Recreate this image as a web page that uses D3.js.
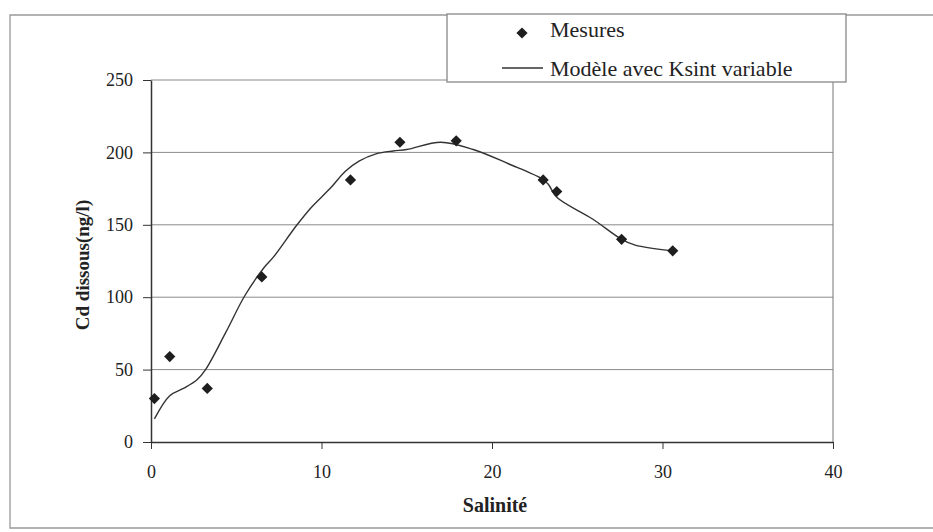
<!DOCTYPE html>
<html>
<head>
<meta charset="utf-8">
<script src="https://cdn.jsdelivr.net/npm/d3@7"></script>
<style>
  body { margin: 0; background: #fff; }
  svg text { font-family: "Liberation Serif", "DejaVu Serif", "Times New Roman", Times, serif !important; fill: #222; }
</style>
</head>
<body>
<script>
// measured points (salinity, dissolved Cd)
const mesSal = [0.2, 1.1, 3.3, 6.5, 11.7, 14.6, 17.9, 23.0, 23.8, 27.6, 30.6];
const mesCd  = [30, 59, 37, 114, 181, 207, 208, 181, 173, 140, 132];

// model curve "Ksint variable"
const modSal = [0.2, 1.1, 1.9, 2.7, 3.2, 4.4, 5.5, 6.6, 7.2, 8.5, 9.4, 10.5, 11.4, 12.2, 13.2, 14.2, 15.0, 17.0, 18.9, 21.0, 22.9, 23.3, 23.8, 25.9, 27.6, 28.4, 30.6];
const modCd  = [16, 32, 37, 43, 50, 76, 101, 120, 128, 149, 162, 175, 187, 194, 199, 201, 202, 207, 202, 192, 182, 178, 169, 154, 140, 136, 132];

const xTicks = [0, 10, 20, 30, 40];
const yTicks = [0, 50, 100, 150, 200, 250];

const W = 933, H = 532;
const margin = { top: 80, right: 100, bottom: 90, left: 151 },
    width = W - margin.left - margin.right,
    height = H - margin.top - margin.bottom;

const svg = d3.select("body").append("svg")
    .attr("width", W)
    .attr("height", H);

// outer chart frame
svg.append("path")
    .attr("d", "M940,15 H10 V528 H940")
    .attr("fill", "none")
    .attr("stroke", "#999")
    .attr("stroke-width", 1.3);

const g = svg.append("g")
    .attr("transform", "translate(" + margin.left + "," + margin.top + ")");

const x = d3.scaleLinear().domain([0, 40]).range([0, width]);
const y = d3.scaleLinear().domain([0, 250]).range([height, 0]);

// gridlines
g.selectAll(".grid")
    .data(yTicks.filter(d => d > 0))
    .enter().append("line")
    .attr("class", "grid")
    .attr("x1", 0).attr("x2", width)
    .attr("y1", d => y(d)).attr("y2", d => y(d))
    .attr("stroke", "#8a8a8a")
    .attr("stroke-width", 1);

// right border of the plot
g.append("line")
    .attr("x1", width).attr("x2", width)
    .attr("y1", 0).attr("y2", height)
    .attr("stroke", "#777");

// axes
const xAxis = g.append("g")
    .attr("transform", "translate(0," + height + ")")
    .call(d3.axisBottom(x).tickValues(xTicks).tickSize(7).tickPadding(16).tickSizeOuter(0));

const yAxis = g.append("g")
    .call(d3.axisLeft(y).tickValues(yTicks).tickSize(8).tickPadding(10).tickSizeOuter(0));

[xAxis, yAxis].forEach(a => {
    a.attr("font-family", null).attr("font-size", null);
    a.select(".domain").attr("stroke", "#333").attr("stroke-width", 1.5);
    a.selectAll(".tick line").attr("stroke", "#333");
    a.selectAll("text")
        .style("font-size", "18px")
        .attr("fill", "#222");
});

// model line
const line = d3.line()
    .x(d => x(d[0]))
    .y(d => y(d[1]))
    .curve(d3.curveCatmullRom.alpha(0.5));

g.append("path")
    .datum(modSal.map((s, i) => [s, modCd[i]]))
    .attr("d", line)
    .attr("fill", "none")
    .attr("stroke", "#333")
    .attr("stroke-width", 1.4);

// measured points as diamonds
const diamond = d3.symbol().type(d3.symbolDiamond2).size(80);
g.selectAll(".pt")
    .data(mesSal.map((s, i) => [s, mesCd[i]]))
    .enter().append("path")
    .attr("class", "pt")
    .attr("transform", d => "translate(" + x(d[0]) + "," + y(d[1]) + ")")
    .attr("d", diamond)
    .attr("fill", "#1e1e1e");

// axis titles
svg.append("text")
    .attr("x", margin.left + width / 2 + 3)
    .attr("y", 512)
    .attr("text-anchor", "middle")
    .attr("font-weight", "bold")
    .style("font-size", "20px")
    .text("Salinité");

svg.append("text")
    .attr("transform", "translate(89," + 265 + ") rotate(-90)")
    .attr("text-anchor", "middle")
    .attr("font-weight", "bold")
    .style("font-size", "19px")
    .text("Cd dissous(ng/l)");

// legend
const lg = svg.append("g");
lg.append("rect")
    .attr("x", 447).attr("y", 14)
    .attr("width", 399).attr("height", 68)
    .attr("fill", "#fff")
    .attr("stroke", "#888")
    .attr("stroke-width", 1.3);

lg.append("path")
    .attr("transform", "translate(522,33)")
    .attr("d", diamond)
    .attr("fill", "#1e1e1e");

lg.append("text")
    .attr("x", 550).attr("y", 37)
    .style("font-size", "22px")
    .text("Mesures");

lg.append("line")
    .attr("x1", 502).attr("x2", 543)
    .attr("y1", 68).attr("y2", 68)
    .attr("stroke", "#333")
    .attr("stroke-width", 1.3);

lg.append("text")
    .attr("x", 550).attr("y", 76)
    .style("font-size", "22px")
    .text("Modèle avec Ksint variable");
</script>
</body>
</html>
